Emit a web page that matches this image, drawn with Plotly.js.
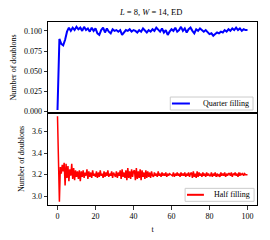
<!DOCTYPE html>
<html>
<head>
<meta charset="utf-8">
<script src="https://cdn.plot.ly/plotly-3.0.1.min.js"></script>
<style>html,body{margin:0;padding:0;background:#fff;}#chart{width:270px;height:240px;}</style>
</head>
<body>
<div id="chart"></div>
<script>
// Quarter filling: t = 0..100, step 1
const quarterFilling = [
  0.002, 0.090, 0.084, 0.082, 0.089, 0.099, 0.104, 0.100, 0.104, 0.101, 0.105,
  0.102, 0.104, 0.100, 0.105, 0.101, 0.103, 0.099, 0.104, 0.100, 0.103,
  0.097, 0.095, 0.101, 0.104, 0.098, 0.103, 0.099, 0.097, 0.102, 0.100,
  0.101, 0.099, 0.101, 0.095, 0.098, 0.101, 0.100, 0.102, 0.099, 0.101,
  0.100, 0.098, 0.101, 0.099, 0.103, 0.100, 0.098, 0.101, 0.099, 0.102,
  0.100, 0.104, 0.101, 0.099, 0.103, 0.098, 0.101, 0.095, 0.099, 0.102,
  0.100, 0.104, 0.099, 0.101, 0.105, 0.100, 0.103, 0.098, 0.102, 0.104,
  0.100, 0.097, 0.102, 0.100, 0.103, 0.101, 0.099, 0.101, 0.098, 0.096,
  0.097, 0.094, 0.096, 0.098, 0.097, 0.099, 0.098, 0.101, 0.099, 0.102,
  0.100, 0.103, 0.101, 0.104, 0.101, 0.103, 0.100, 0.102, 0.101, 0.101
];
// Half filling: t = 0..100, step 0.5
const halfFilling = [
  3.74, 3.30, 2.95, 3.27, 3.21, 3.29, 3.23, 3.31, 3.10, 3.30, 3.17, 3.28, 3.14, 3.25, 3.19, 3.30, 3.16, 3.26, 3.15, 3.24, 3.18,
  3.23, 3.16, 3.24, 3.14, 3.23, 3.18, 3.24, 3.17, 3.22, 3.19, 3.25, 3.16, 3.23, 3.18, 3.22, 3.17, 3.24, 3.19, 3.21, 3.18,
  3.23, 3.17, 3.22, 3.18, 3.24, 3.19, 3.21, 3.17, 3.23, 3.18, 3.22, 3.19, 3.24, 3.18, 3.21, 3.19, 3.23, 3.17, 3.22, 3.19,
  3.18, 3.23, 3.17, 3.22, 3.19, 3.24, 3.16, 3.25, 3.18, 3.22, 3.17, 3.24, 3.15, 3.26, 3.17, 3.23, 3.16, 3.25, 3.18, 3.23,
  3.24, 3.15, 3.26, 3.16, 3.23, 3.17, 3.25, 3.15, 3.24, 3.18, 3.22, 3.16, 3.24, 3.17, 3.23, 3.18, 3.22, 3.17, 3.23, 3.19,
  3.18, 3.22, 3.19, 3.21, 3.18, 3.23, 3.19, 3.21, 3.18, 3.22, 3.19, 3.21, 3.19, 3.22, 3.18, 3.21, 3.19, 3.21, 3.20, 3.19,
  3.19, 3.22, 3.18, 3.21, 3.19, 3.22, 3.19, 3.21, 3.18, 3.22, 3.19, 3.21, 3.19, 3.22, 3.18, 3.21, 3.19, 3.22, 3.18, 3.21,
  3.22, 3.17, 3.23, 3.18, 3.21, 3.17, 3.23, 3.18, 3.22, 3.19, 3.21, 3.18, 3.22, 3.19, 3.21, 3.18, 3.22, 3.19, 3.21, 3.19,
  3.19, 3.22, 3.18, 3.21, 3.19, 3.22, 3.18, 3.21, 3.19, 3.20, 3.18, 3.22, 3.19, 3.21, 3.19, 3.22, 3.18, 3.21, 3.19, 3.21,
  3.21, 3.19, 3.22, 3.18, 3.21, 3.20, 3.22, 3.19, 3.21, 3.18, 3.22, 3.19, 3.21, 3.20, 3.21, 3.19, 3.21, 3.20, 3.20, 3.20
];
const seriesNames = ['Quarter filling', 'Half filling'];
const seriesColors = ['#0000ff', '#ff0000'];
const xTicks = [0, 20, 40, 60, 80, 100];
const topTicks = [0.000, 0.025, 0.050, 0.075, 0.100];
const bottomTicks = [3.0, 3.2, 3.4, 3.6];

const FONT = 'Liberation Serif, DejaVu Serif, serif';

const traces = [
  {x0: 0, dx: 1, y: quarterFilling, type: 'scatter', mode: 'lines', name: seriesNames[0],
   line: {color: seriesColors[0], width: 2}, xaxis: 'x', yaxis: 'y'},
  {x0: 0, dx: 0.5, y: halfFilling, type: 'scatter', mode: 'lines', name: seriesNames[1],
   line: {color: seriesColors[1], width: 1.5}, xaxis: 'x2', yaxis: 'y2'}
];

const axisCommon = {
  showline: true, linecolor: '#000', linewidth: 1, mirror: true,
  ticks: 'outside', ticklen: 3.5, tickwidth: 0.8, tickcolor: '#000',
  showgrid: false, zeroline: false,
  tickfont: {family: FONT, size: 8, color: '#000'}
};

// legend boxes (decoration, paper coords)
function legendShapes(x0, x1, y0, y1, lx0, lx1, ly, color) {
  return [
    {type: 'rect', xref: 'paper', yref: 'paper', x0: x0, x1: x1, y0: y0, y1: y1,
     fillcolor: 'rgba(255,255,255,0.9)', line: {color: '#cccccc', width: 1}, layer: 'above'},
    {type: 'line', xref: 'paper', yref: 'paper', x0: lx0, x1: lx1, y0: ly, y1: ly,
     line: {color: color, width: 2}, layer: 'above'}
  ];
}
const shapes = [].concat(
  legendShapes(0.585, 0.981, 0.519, 0.590, 0.593, 0.679, 0.5546, seriesColors[0]),
  legendShapes(0.656, 0.986, 0.020, 0.091, 0.665, 0.746, 0.0557, seriesColors[1])
);
const annotations = [
  {text: seriesNames[0], xref: 'paper', yref: 'paper', x: 0.970, y: 0.5546,
   xanchor: 'right', yanchor: 'middle', showarrow: false,
   font: {family: FONT, size: 8, color: '#000'}},
  {text: seriesNames[1], xref: 'paper', yref: 'paper', x: 0.975, y: 0.0557,
   xanchor: 'right', yanchor: 'middle', showarrow: false,
   font: {family: FONT, size: 8, color: '#000'}}
];

const layout = {
  width: 270, height: 240,
  margin: {l: 48, r: 13, t: 22, b: 35},
  paper_bgcolor: '#fff', plot_bgcolor: '#fff',
  showlegend: false,
  title: {text: '<i>L</i> = 8, <i>W</i> = 14, ED', font: {family: FONT, size: 8.5, color: '#000'},
          x: 0.56, xanchor: 'center', y: 0.95, yanchor: 'middle'},
  xaxis: Object.assign({}, axisCommon, {domain: [0, 1], range: [-5, 105], anchor: 'y',
          tickvals: xTicks, showticklabels: false, ticks: ''}),
  yaxis: Object.assign({}, axisCommon, {domain: [0.503, 1], range: [-0.0017, 0.111], anchor: 'x',
          tickvals: topTicks, tickformat: '.3f',
          title: {text: 'Number of doublons', font: {family: FONT, size: 8, color: '#000'}, standoff: 6}}),
  xaxis2: Object.assign({}, axisCommon, {domain: [0, 1], range: [-5, 105], anchor: 'y2',
          tickvals: xTicks,
          title: {text: 't', font: {family: FONT, size: 8, color: '#000'}, standoff: 6}}),
  yaxis2: Object.assign({}, axisCommon, {domain: [0, 0.503], range: [2.92, 3.77], anchor: 'x2',
          tickvals: bottomTicks, tickformat: '.1f',
          title: {text: 'Number of doublons', font: {family: FONT, size: 8, color: '#000'}, standoff: 6}}),
  shapes: shapes,
  annotations: annotations
};

Plotly.newPlot('chart', traces, layout, {displayModeBar: false, staticPlot: true});
</script>
</body>
</html>
